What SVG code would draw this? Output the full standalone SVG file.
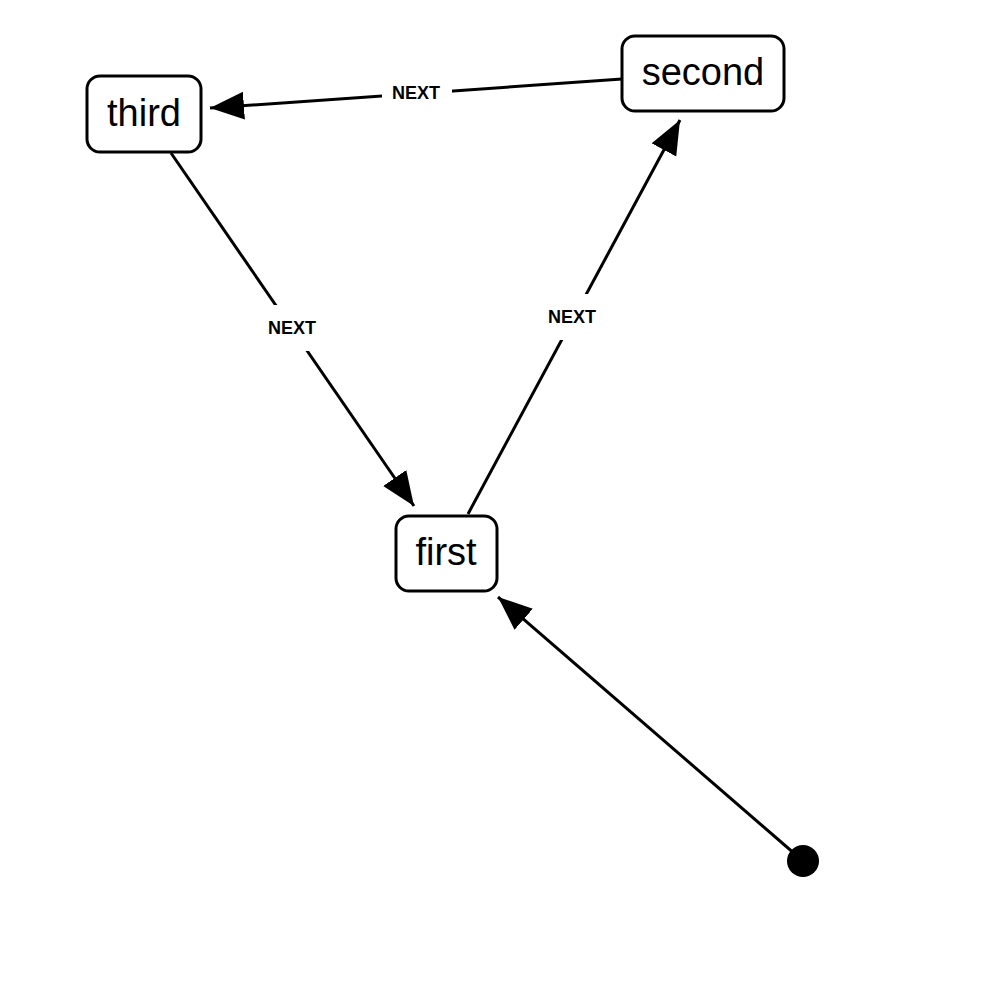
<svg xmlns="http://www.w3.org/2000/svg" width="1000" height="1000" viewBox="0 0 1000 1000">
<style>
.node rect{fill:#fff;stroke:#000;stroke-width:3}
.node text{font-family:"Liberation Sans",Arial,sans-serif;font-size:38px;fill:#000;text-anchor:middle;dominant-baseline:central}
.edge line{stroke:#000;stroke-width:3}
.lbl rect{fill:#fff}
.lbl text{font-family:"Liberation Sans",Arial,sans-serif;font-size:18px;font-weight:bold;fill:#000;text-anchor:middle;dominant-baseline:central}
</style>
<defs>
<marker id="arr" markerUnits="userSpaceOnUse" markerWidth="36" markerHeight="30" refX="34" refY="14" orient="auto" viewBox="0 0 36 30">
<path d="M0,0 L34,14 L0,28 z" fill="#000"/>
</marker>
</defs>
<rect width="1000" height="1000" fill="#fff"/>
<g id="connectors">
<g class="edge"><line x1="622" y1="79" x2="210" y2="108" marker-end="url(#arr)"/></g>
<g class="edge"><line x1="171" y1="153" x2="414" y2="506" marker-end="url(#arr)"/></g>
<g class="edge"><line x1="468" y1="514" x2="680" y2="120" marker-end="url(#arr)"/></g>
<g class="edge"><line x1="803" y1="861" x2="498" y2="597" marker-end="url(#arr)"/></g>
<g class="lbl"><rect x="382" y="80" width="70" height="26"/><text x="416" y="93">NEXT</text></g>
<g class="lbl"><rect x="262" y="305" width="60" height="46"/><text x="292" y="328">NEXT</text></g>
<g class="lbl"><rect x="542" y="294" width="60" height="46"/><text x="572" y="317">NEXT</text></g>
</g>
<circle id="start" cx="803" cy="861" r="16" fill="#000"/>
<g id="node-third" class="node"><rect x="87" y="76" width="114" height="76" rx="13"/><text x="144" y="113">third</text></g>
<g id="node-second" class="node"><rect x="622" y="36" width="162" height="75" rx="13"/><text x="703" y="72">second</text></g>
<g id="node-first" class="node"><rect x="396" y="516" width="101" height="75" rx="13"/><text x="446" y="552">first</text></g>
</svg>
